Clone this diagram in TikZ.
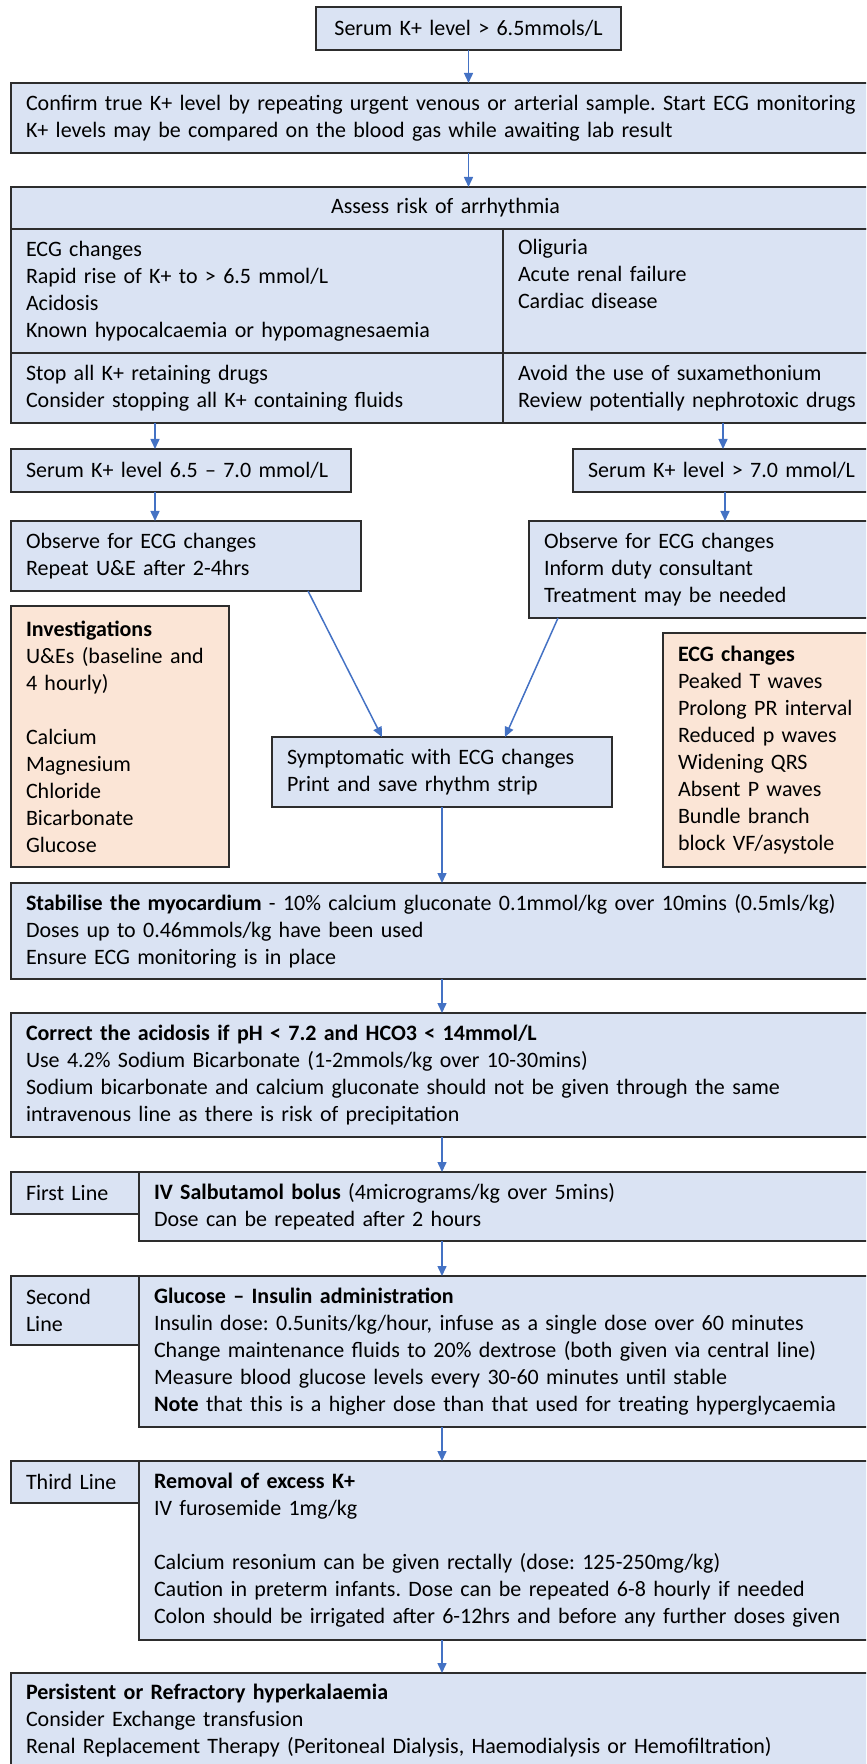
\documentclass[tikz,border=0pt]{standalone}
\usepackage{fontspec}
\setmainfont{Carlito}
\usepackage{tikz}
\usetikzlibrary{arrows.meta,positioning,shapes}

\definecolor{boxblue}{RGB}{218,227,243}
\definecolor{boxorange}{RGB}{251,229,214}
\definecolor{arrowblue}{RGB}{68,114,196}
\definecolor{boxline}{RGB}{45,45,45}
\frenchspacing

\begin{document}
\begin{tikzpicture}[x=0.5pt,y=-0.5pt]

    \tikzstyle{box} = [draw=boxline, line width=0.9pt, rectangle, fill=boxblue,
    anchor=north west, outer sep=0pt, inner xsep=7.5pt, inner ysep=0pt,
    align=left, font=\fontsize{11}{13.5}\selectfont]

    \tikzstyle{note} = [box, fill=boxorange]

    \tikzstyle{arr} = [draw=arrowblue, line width=0.75pt,
    -{Triangle[length=5pt,width=4.5pt]}]

    \useasboundingbox (0,0) rectangle (866,1764);
    \clip (0,0) rectangle (866,1764);

    \draw
    (316,7) node [box, align=center, text width=137.5pt, minimum height=21.5pt] (top)
      {Serum K+ level > 6.5mmols/L}
    (11,83) node [box, text width=419.5pt, minimum height=35pt] (confirm)
      {Confirm true K+ level by repeating urgent venous or arterial sample. Start ECG monitoring\\
       K+ levels may be compared on the blood gas while awaiting lab result}
    (11,187) node [box, align=center, text width=419.5pt, minimum height=21pt] (hdr)
      {Assess risk of arrhythmia}
    (11,229) node [box, text width=231pt, minimum height=62pt] (riskL)
      {ECG changes\\ Rapid rise of K+ to > 6.5 mmol/L\\ Acidosis\\
       Known hypocalcaemia or hypomagnesaemia}
    (503,229) node [box, text width=173.5pt, minimum height=62pt] (riskR)
      {Oliguria\\ Acute renal failure\\ Cardiac disease\\ \strut}
    (11,353) node [box, text width=231pt, minimum height=35pt] (stopL)
      {Stop all K+ retaining drugs\\ Consider stopping all K+ containing fluids}
    (503,353) node [box, text width=173.5pt, minimum height=35pt] (stopR)
      {Avoid the use of suxamethonium\\ Review potentially nephrotoxic drugs}
    ;

    \draw
    (11,449) node [box, text width=155pt, minimum height=21.5pt] (low)
      {Serum K+ level 6.5 -- 7.0 mmol/L}
    (573,449) node [box, text width=138.5pt, minimum height=21.5pt] (high)
      {Serum K+ level > 7.0 mmol/L}
    (11,521) node [box, text width=160pt, minimum height=35pt] (obsL)
      {Observe for ECG changes\\ Repeat U\&E after 2-4hrs}
    (529,521) node [box, text width=160.5pt, minimum height=48.5pt] (obsR)
      {Observe for ECG changes\\ Inform duty consultant\\ Treatment may be needed}
    (11,606) node [note, text width=94pt, minimum height=130.5pt] (invest)
      {\textbf{Investigations}\\ U\&Es (baseline and\\ 4 hourly)\\[13.5pt]
       Calcium\\ Magnesium\\ Chloride\\ Bicarbonate\\ Glucose}
    (663,633) node [note, text width=93.5pt, minimum height=117pt] (ecg)
      {\textbf{ECG changes}\\ Peaked T waves\\ Prolong PR interval\\ Reduced p waves\\
       Widening QRS\\ Absent P waves\\ Bundle branch\\ block VF/asystole}
    (272,737) node [box, text width=155pt, minimum height=35pt] (sympt)
      {Symptomatic with ECG changes\\ Print and save rhythm strip}
    ;

    \draw
    (11,883) node [box, text width=419.5pt, minimum height=48pt] (stab)
      {\textbf{Stabilise the myocardium} - 10\% calcium gluconate 0.1mmol/kg over 10mins (0.5mls/kg)\\
       Doses up to 0.46mmols/kg have been used\\ Ensure ECG monitoring is in place}
    (11,1013) node [box, text width=419.5pt, minimum height=62pt] (acid)
      {\textbf{Correct the acidosis if pH < 7.2 and HCO3 < 14mmol/L}\\
       Use 4.2\% Sodium Bicarbonate (1-2mmols/kg over 10-30mins)\\
       Sodium bicarbonate and calcium gluconate should not be given through the same\\
       intravenous line as there is risk of precipitation}
    (139,1172) node [box, text width=355.5pt, minimum height=34.5pt] (firstM)
      {\textbf{IV Salbutamol bolus} (4micrograms/kg over 5mins)\\ Dose can be repeated after 2 hours}
    (11,1172) node [box, text width=49pt, minimum height=21pt] (firstL)
      {First Line}
    (139,1276) node [box, text width=355.5pt, minimum height=75.5pt] (secondM)
      {\textbf{Glucose -- Insulin administration}\\
       Insulin dose: 0.5units/kg/hour, infuse as a single dose over 60 minutes\\
       Change maintenance fluids to 20\% dextrose (both given via central line)\\
       Measure blood glucose levels every 30-60 minutes until stable\\
       \textbf{Note} that this is a higher dose than that used for treating hyperglycaemia}
    (11,1276) node [box, text width=49pt, minimum height=34.5pt] (secondL)
      {Second\\ Line}
    (139,1461) node [box, text width=355.5pt, minimum height=89.5pt] (thirdM)
      {\textbf{Removal of excess K+}\\ IV furosemide 1mg/kg\\[13.5pt]
       Calcium resonium can be given rectally (dose: 125-250mg/kg)\\
       Caution in preterm infants. Dose can be repeated 6-8 hourly if needed\\
       Colon should be irrigated after 6-12hrs and before any further doses given}
    (11,1461) node [box, text width=49pt, minimum height=21pt] (thirdL)
      {Third Line}
    (11,1673) node [box, text width=419.5pt, minimum height=48pt] (persist)
      {\textbf{Persistent or Refractory hyperkalaemia}\\ Consider Exchange transfusion\\
       Renal Replacement Therapy (Peritoneal Dialysis, Haemodialysis or Hemofiltration)}
    ;

    % top of the chart
    \draw[arr] (top.south) -- (top.south |- confirm.north);
    \draw[arr] (confirm.south -| top.south) -- (hdr.north -| top.south);

    % two branches
    \draw[arr] ([xshift=72pt]stopL.south west) -- ([xshift=72pt]low.north west);
    \draw[arr] ([xshift=110pt]stopR.south west) -- ([xshift=75pt]high.north west);
    \draw[arr] ([xshift=72pt]low.south west) -- ([xshift=72pt]obsL.south west |- obsL.north);
    \draw[arr] ([xshift=76pt]high.south west) -- ([xshift=98pt]obsR.north west);
    \draw[arr] ([xshift=148.5pt]obsL.south west) -- ([xshift=55pt]sympt.north west);
    \draw[arr] ([xshift=14.5pt]obsR.south west) -- ([xshift=116.5pt]sympt.north west);

    % treatment steps
    \draw[arr] (sympt.south) -- (sympt.south |- stab.north);
    \draw[arr] (stab.south -| sympt.south) -- (acid.north -| sympt.south);
    \draw[arr] (acid.south -| sympt.south) -- (firstM.north -| sympt.south);
    \draw[arr] (firstM.south -| sympt.south) -- (secondM.north -| sympt.south);
    \draw[arr] (secondM.south -| sympt.south) -- (thirdM.north -| sympt.south);
    \draw[arr] (thirdM.south -| sympt.south) -- (persist.north -| sympt.south);
  \end{tikzpicture}
\end{document}
